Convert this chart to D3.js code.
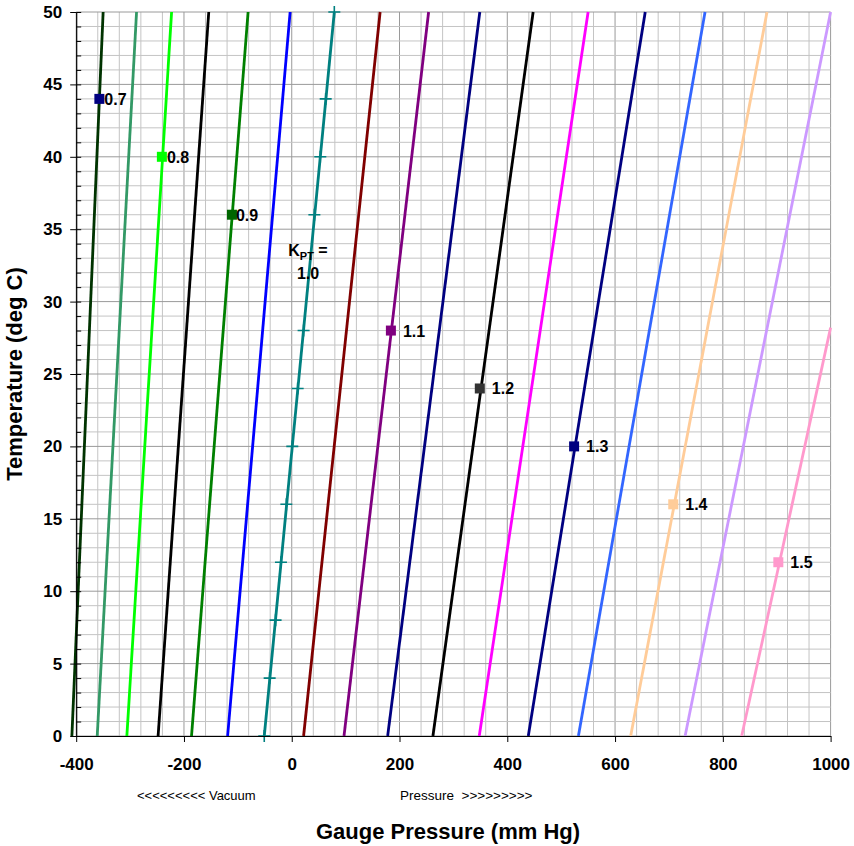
<!DOCTYPE html>
<html>
<head>
<meta charset="utf-8">
<script src="https://cdn.jsdelivr.net/npm/d3@7/dist/d3.min.js"></script>
<style>
  body { margin: 0; background: #fff; }
  svg text { font-family: "Liberation Sans", Arial, sans-serif; }
</style>
</head>
<body>
<script>
// K_PT lines: gauge pressure at 0 deg C and at the top end of each line
const kptValues = ["0.7", "0.75", "0.8", "0.85", "0.9", "0.95", "1.0", "1.05", "1.1",
  "1.15", "1.2", "1.25", "1.3", "1.35", "1.4", "1.45", "1.5"]
const pressureAtZero = [-408, -361, -306, -248, -186, -119, -51, 22, 97, 178, 262, 348, 439, 532, 629, 730, 835]
const pressureAtEnd = [-350, -288, -223, -154, -81, -3, 79, 164, 254, 349, 448, 550, 656, 767, 882, 1000, 1000]
const tempAtEnd = [50, 50, 50, 50, 50, 50, 50, 50, 50, 50, 50, 50, 50, 50, 50, 50, 28.2]
const lineColors = ["#003300", "#339966", "#00ff00", "#000000", "#008000", "#0000ff", "#008080", "#800000",
  "#800080", "#000080", "#000000", "#ff00ff", "#000080", "#3366ff", "#ffcc99", "#cc99ff", "#ff99cc"]

// the K_PT = 1.0 series carries "+" markers
const refTemps = [0, 4, 8, 12, 16, 20, 24, 28, 36, 40, 44, 50]
const refPressures = [-51, -41, -30, -20, -10, 1, 11, 22, 42, 53, 63, 79]

// labelled points
const pointLabels = ["0.7", "0.8", "0.9", "1.1", "1.2", "1.3", "1.4", "1.5"]
const pointPressures = [-357, -241, -111, 184, 349, 524, 708, 903]
const pointTemps = [44, 40, 36, 28, 24, 20, 16, 12]
const pointColors = ["#000080", "#00ff00", "#006600", "#800080", "#333333", "#000080", "#ffcc99", "#ff99cc"]
const labelGap = [5, 5, 4, 12, 12, 12, 12, 12]

const xTicks = [-400, -200, 0, 200, 400, 600, 800, 1000]
const yTicks = [0, 5, 10, 15, 20, 25, 30, 35, 40, 45, 50]

const dims = { w: 854, h: 846, l: 76.2, r: 830.6, t: 12, b: 736 }

const svg = d3.select("body")
  .append("svg")
  .attr("width", dims.w)
  .attr("height", dims.h)

const xScale = d3.scaleLinear().domain([-400, 1000]).range([dims.l, dims.r])
const yScale = d3.scaleLinear().domain([0, 50]).range([dims.b, dims.t])

// gridlines
const grid = svg.append("g")
grid.selectAll("line.vx")
  .data(d3.range(-400, 1001, 40))
  .enter().append("line")
  .attr("x1", d => xScale(d)).attr("x2", d => xScale(d))
  .attr("y1", dims.t).attr("y2", dims.b)
  .attr("stroke", d => d % 200 === 0 ? "#9a9a9a" : "#c4c4c4")
grid.selectAll("line.hy")
  .data(d3.range(0, 51, 1))
  .enter().append("line")
  .attr("x1", dims.l).attr("x2", dims.r)
  .attr("y1", d => yScale(d)).attr("y2", d => yScale(d))
  .attr("stroke", d => d % 5 === 0 ? "#9a9a9a" : "#c4c4c4")

// K_PT lines
svg.append("g")
  .selectAll("line")
  .data(kptValues)
  .enter().append("line")
  .attr("x1", (d, i) => xScale(pressureAtZero[i]))
  .attr("y1", yScale(0))
  .attr("x2", (d, i) => xScale(pressureAtEnd[i]))
  .attr("y2", (d, i) => yScale(tempAtEnd[i]))
  .attr("stroke", (d, i) => lineColors[i])
  .attr("stroke-width", 2.8)

// "+" markers on the 1.0 line
const plus = svg.append("g").attr("stroke", "#008080").attr("stroke-width", 1.6)
plus.selectAll("path")
  .data(refTemps)
  .enter().append("path")
  .attr("d", (d, i) => {
    let x = xScale(refPressures[i]), y = yScale(d)
    return `M${x - 6},${y}H${x + 6}M${x},${y - 6}V${y + 6}`
  })

// axes
const yAxis = svg.append("g")
  .attr("transform", `translate(${dims.l},0)`)
  .call(d3.axisLeft(yScale).tickValues(yTicks).tickFormat(d => d).tickSize(6).tickSizeOuter(0).tickPadding(8))
yAxis.append("g")
  .call(d3.axisLeft(yScale).tickValues(d3.range(0, 51, 1)).tickSize(-5).tickFormat(""))
  .select(".domain").remove()

const xAxis = svg.append("g")
  .attr("transform", `translate(0,${dims.b})`)
  .call(d3.axisBottom(xScale).tickValues(xTicks).tickFormat(d => d).tickSize(6).tickSizeOuter(0).tickPadding(16))

svg.selectAll(".domain").attr("stroke", "#000").attr("stroke-width", 1.2)
svg.selectAll(".tick line").attr("stroke", "#000")
svg.selectAll(".tick text")
  .attr("fill", "#000")
  .style("font-size", "17px")
  .style("font-weight", "bold")
  .style("font-family", "'Liberation Sans', Arial, sans-serif")

// labelled square markers
const pts = svg.append("g")
pts.selectAll("rect")
  .data(pointLabels)
  .enter().append("rect")
  .attr("x", (d, i) => xScale(pointPressures[i]) - 5)
  .attr("y", (d, i) => yScale(pointTemps[i]) - 5)
  .attr("width", 10).attr("height", 10)
  .attr("fill", (d, i) => pointColors[i])
pts.selectAll("text")
  .data(pointLabels)
  .enter().append("text")
  .attr("x", (d, i) => xScale(pointPressures[i]) + labelGap[i])
  .attr("y", (d, i) => yScale(pointTemps[i]) + 6)
  .style("font-size", "16px")
  .style("font-weight", "bold")
  .text(d => d)

// K_PT = 1.0 label, centred on the T = 32 point of the 1.0 line
const kptText = svg.append("text")
  .attr("x", 308).attr("y", 256)
  .attr("text-anchor", "middle")
  .style("font-size", "16px").style("font-weight", "bold")
kptText.append("tspan").text("K")
kptText.append("tspan").attr("dy", 4).style("font-size", "11px").text("PT")
kptText.append("tspan").attr("dy", -4).text(" =")
svg.append("text")
  .attr("x", 308).attr("y", 279)
  .attr("text-anchor", "middle")
  .style("font-size", "16px").style("font-weight", "bold")
  .text("1.0")

// axis titles
svg.append("text")
  .attr("transform", `translate(22,${(dims.t + dims.b) / 2}) rotate(-90)`)
  .attr("text-anchor", "middle")
  .style("font-size", "22px").style("font-weight", "bold")
  .text("Temperature (deg C)")

svg.append("text")
  .attr("x", 448).attr("y", 839)
  .attr("text-anchor", "middle")
  .style("font-size", "22px").style("font-weight", "bold")
  .text("Gauge Pressure (mm Hg)")

svg.append("text")
  .attr("x", 137).attr("y", 800)
  .style("font-size", "13px")
  .text("<<<<<<<<< Vacuum")

svg.append("text")
  .attr("x", 400).attr("y", 800)
  .style("font-size", "13.5px")
  .style("white-space", "pre")
  .text("Pressure  >>>>>>>>>")
</script>
</body>
</html>
